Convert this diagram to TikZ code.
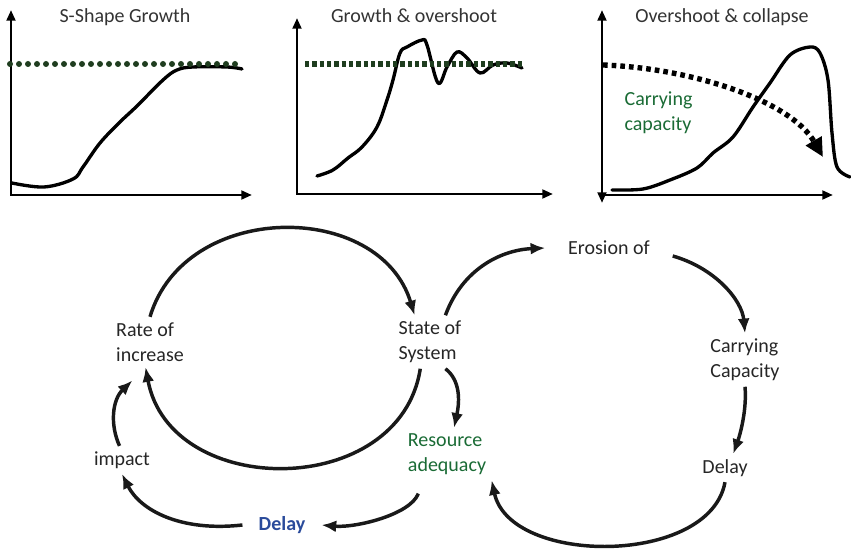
\documentclass[tikz,border=0pt]{standalone}
\usepackage{fontspec}
\setmainfont{Carlito}
\usetikzlibrary{arrows.meta}
\definecolor{capgreen}{HTML}{1F3D1F}
\definecolor{resgreen}{HTML}{1A6B35}
\definecolor{delayblue}{HTML}{2A4B9B}

\begin{document}
\begin{tikzpicture}[
    x=0.75pt, y=-0.75pt,
    >=Latex,
    font=\fontsize{15}{19}\selectfont,
    lbl/.style={align=left, text=black!85, inner sep=4pt},
    ttl/.style={text=black!80},
    axis/.style={line width=2pt, {Triangle[length=8pt,width=6.5pt]}-{Triangle[length=8pt,width=6.5pt]}},
    curve/.style={line width=2.5pt, line join=round, line cap=round},
    link/.style={line width=2.6pt, draw=black!90, -{Latex[length=11pt,width=9pt]}}
]
\useasboundingbox (0,0) rectangle (851,552);

\draw[axis] (11,10) -- (11,195) -- (252,195);
\node[ttl] (t1) at (125,17) {S-Shape Growth};
\draw[curve] plot[smooth, tension=0.6] coordinates {(12,183) (44,187) (73,179) (83,167) (100,143) (120,122) (137,106) (163,80) (177,70) (193,67) (227,67) (242,69)};
\draw[capgreen, line width=4.5pt, line cap=round, dash pattern=on 0pt off 6.75pt] (10,64) -- (243,64);

\draw[axis] (297,18) -- (297,194) -- (553,194);
\node[ttl] (t2) at (414,16) {Growth \& overshoot};
\draw[curve] plot[smooth, tension=0.6] coordinates {(317,176) (333,170) (348,158) (362,147) (377,127) (387,100) (393,80) (400,53) (407,47) (422,40) (427,45) (438,83) (447,67) (457,52) (467,58) (480,73) (493,65) (507,63) (522,68)};
\draw[capgreen, line width=3.8pt, dash pattern=on 3.3pt off 2.2pt] (305,64) -- (523,64);

\draw[axis] (602,10) -- (602,203);
\draw[line width=2pt, -{Triangle[length=8pt,width=6.5pt]}] (602,195) -- (833,195);
\node[ttl] (t3) at (722,17) {Overshoot \& collapse};
\draw[curve] plot[smooth, tension=0.55] coordinates {(612,190) (643,189) (670,180) (697,168) (713,153) (733,137) (753,107) (770,83) (790,55) (810,47) (820,53) (828,80) (832,133) (837,167) (850,177)};
\draw[line width=4pt, dash pattern=on 3.5pt off 3pt, -{Triangle[length=14pt,width=13pt]}] (603,65) .. controls (690,68) and (790,100) .. (823,157);
\node[lbl, text=resgreen, anchor=west] (cap) at (619,113) {Carrying\\capacity};

\node[lbl] (rate) at (150,342) {Rate of\\increase};
\node[lbl] (state) at (430,342) {State of\\System};
\node[lbl, text=resgreen] (res) at (447,454) {Resource\\adequacy};
\node[lbl] (impact) at (122,460) {impact};
\node[lbl, text=delayblue, font=\fontsize{15}{19}\selectfont\bfseries, inner xsep=12pt] (delayb) at (282,525) {Delay};
\node[lbl, inner xsep=17pt] (erosion) at (609,248) {Erosion of};
\node[lbl] (carry) at (745,360) {Carrying\\Capacity};
\node[lbl] (delayk) at (725,468) {Delay};

\draw[link] (rate.north) .. controls (185,200) and (380,200) .. (state.120);
\draw[link] (state.250) .. controls (400,500) and (170,500) .. (rate.260);
\draw[link] (state.300) .. controls (460,380) and (460,400) .. (res.75);
\draw[link] ([xshift=12pt,yshift=-10pt]res.south west) .. controls (410,515) and (355,528) .. (delayb.east);
\draw[link] (delayb.west) .. controls (180,532) and (140,510) .. (impact.south);
\draw[link] (impact.100) .. controls (110,425) and (112,400) .. ([yshift=-10pt]rate.235);
\draw[link] (state.60) .. controls (462,270) and (500,250) .. (erosion.west);
\draw[link] ([yshift=-6pt]erosion.east) .. controls (715,268) and (742,300) .. (carry.north);
\draw[link] (carry.south) .. controls (747,410) and (740,435) .. (delayk.60);
\draw[link] (delayk.south) .. controls (710,566) and (510,566) .. (res.south east);
\end{tikzpicture}
\end{document}
